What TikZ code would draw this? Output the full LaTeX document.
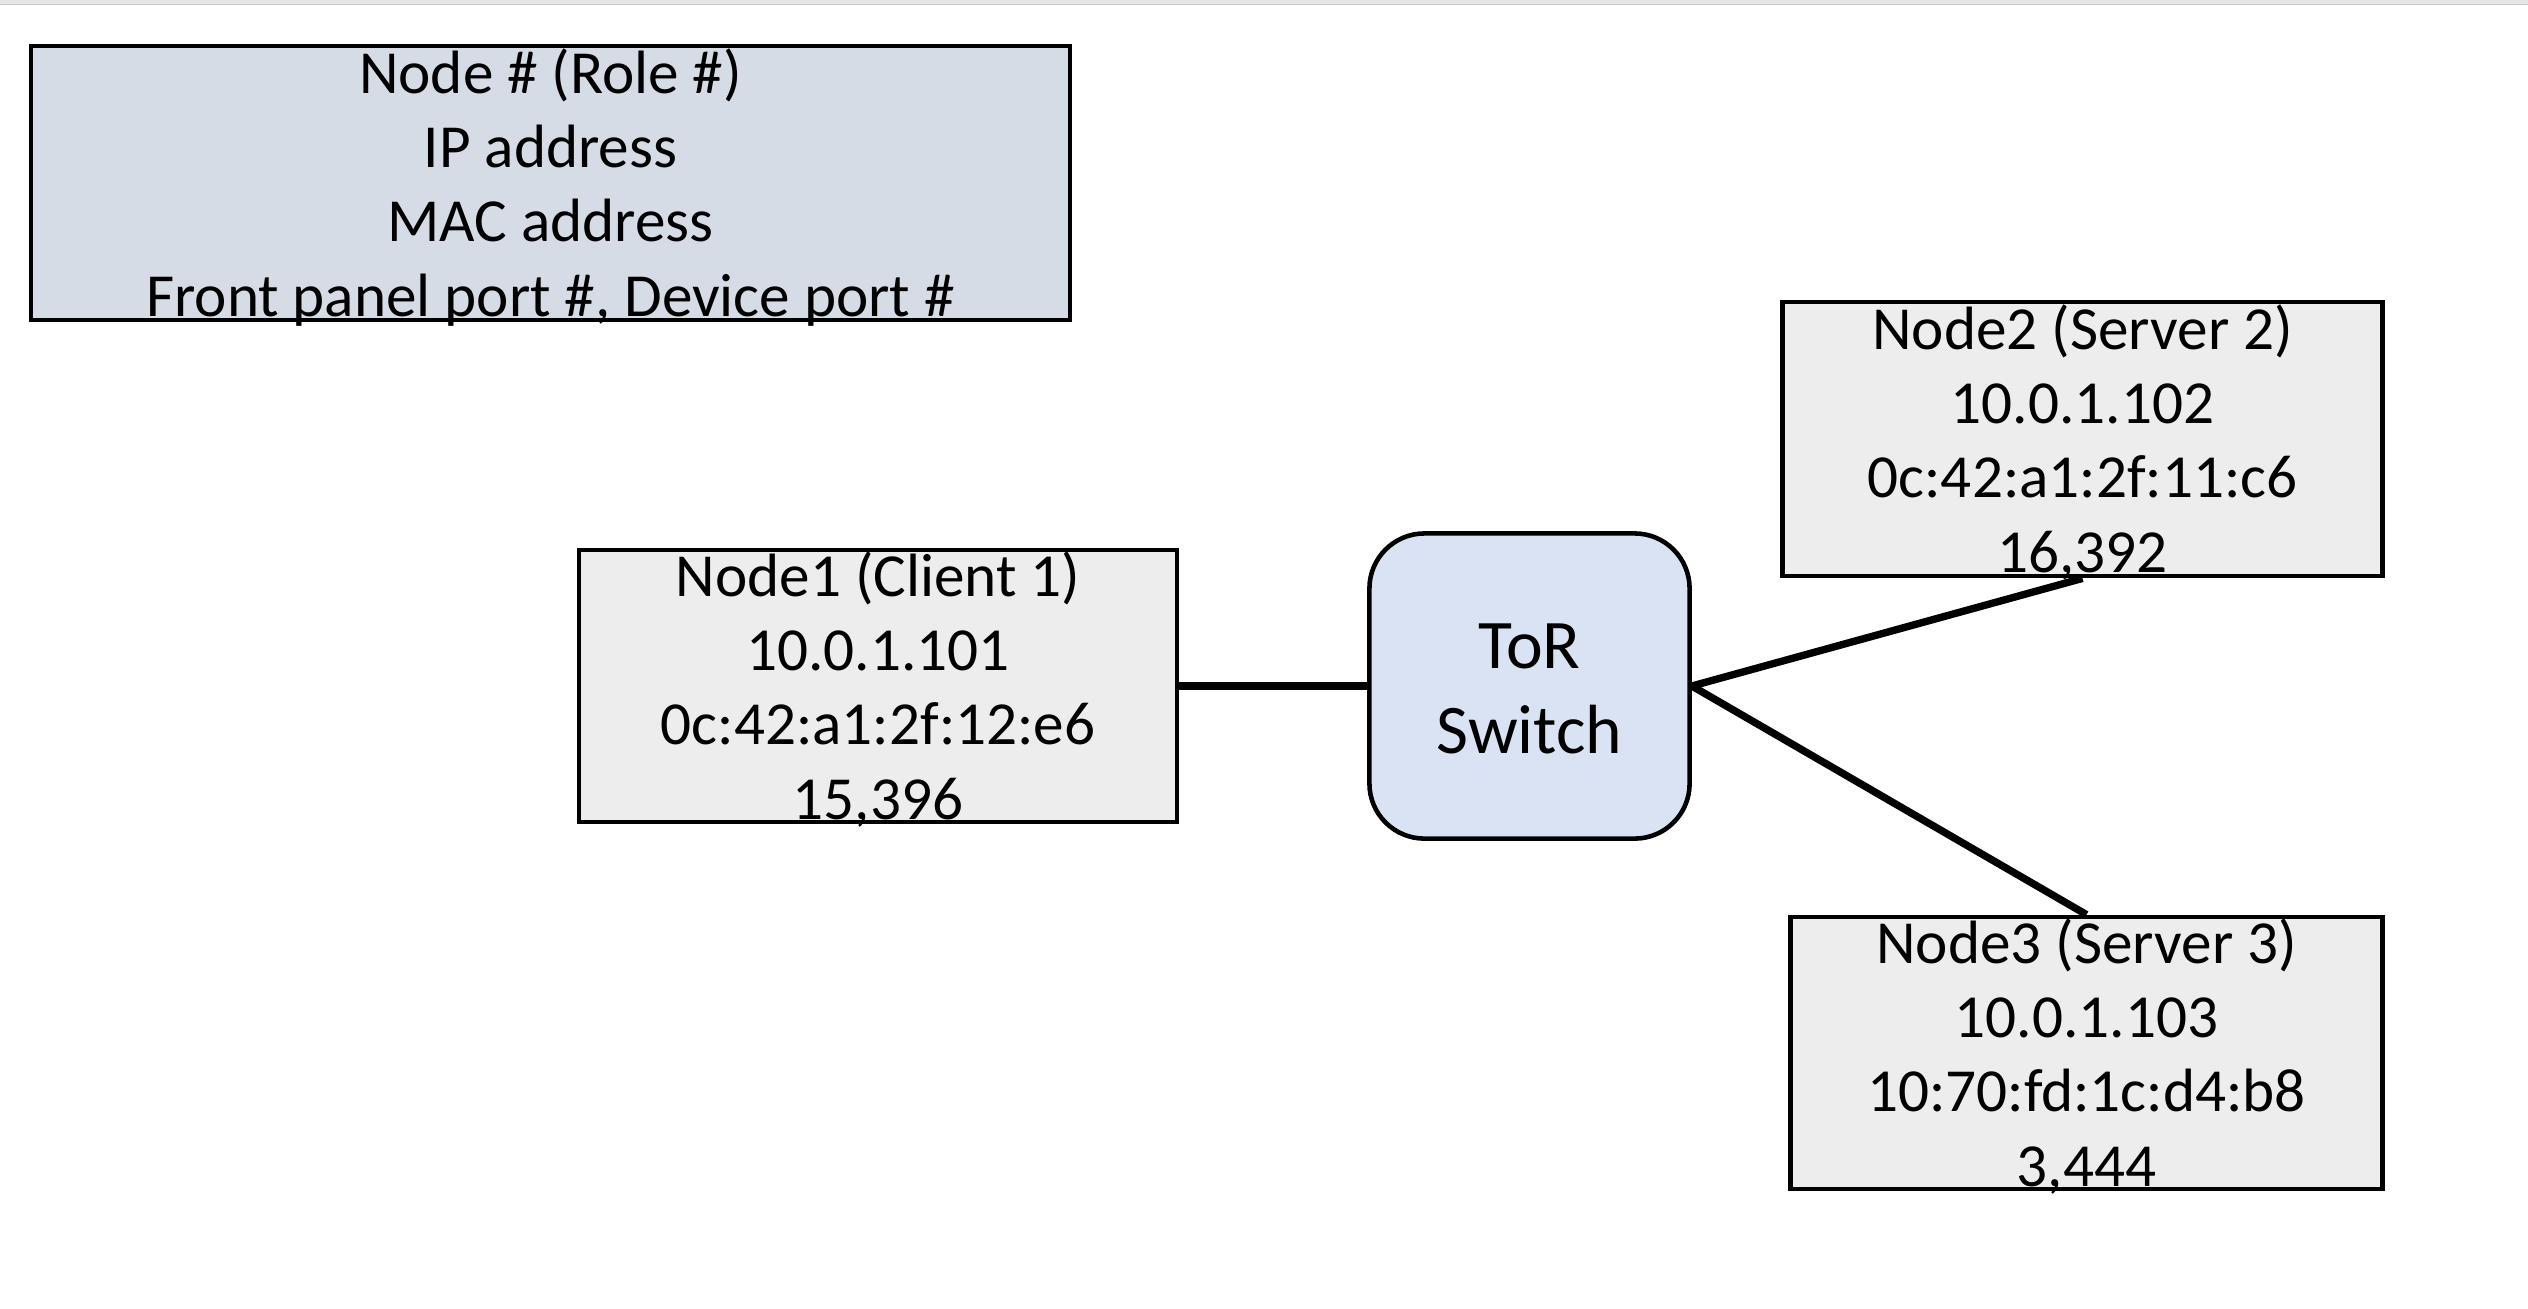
\documentclass[tikz,border=0pt]{standalone}
\usepackage{fontspec}
\setmainfont{Carlito}
\definecolor{legendfill}{HTML}{D6DCE5}
\definecolor{hostfill}{HTML}{EDEDED}
\definecolor{switchfill}{HTML}{DAE3F3}
\definecolor{topband}{HTML}{E6E6E6}
\definecolor{topline}{HTML}{C8C8C8}
\newcommand{\topstrut}{\rule{0pt}{0.95em}}
\newcommand{\botstrut}{\rule[-0.24em]{0pt}{0pt}}
\tikzset{
  infobox/.style={draw=black, line width=1.3pt, rectangle, inner xsep=0pt, inner ysep=-20pt, align=center,
    font=\fontsize{17.4pt}{21.1pt}\selectfont},
  hostbox/.style={infobox, fill=hostfill, minimum width=5.98cm, minimum height=2.72cm},
  switchbox/.style={draw=black, line width=1.3pt, rectangle, rounded corners=0.55cm, fill=switchfill,
    minimum width=3.20cm, minimum height=3.05cm, align=center, inner sep=0pt,
    font=\fontsize{19.8pt}{24.2pt}\selectfont},
  link/.style={draw=black, line width=2.1pt}
}
\begin{document}
\begin{tikzpicture}[x=0.01cm, y=-0.01cm]
\useasboundingbox (0,0) rectangle (2528,1308);
\fill[white] (0,0) rectangle (2528,1308);
\fill[topband] (0,0) rectangle (2528,4);
\draw[topline, line width=0.5pt] (0,4.5) -- (2528,4.5);

\node[infobox, fill=legendfill, minimum width=10.38cm, minimum height=2.74cm] (legend) at (550.5,183)
  {\topstrut Node \# (Role \#)\\IP address\\MAC address\\Front panel port \#, Device port \#\botstrut};

\node[hostbox] (node1) at (878,686)
  {\topstrut Node1 (Client 1)\\10.0.1.101\\0c:42:a1:2f:12:e6\\15,396\botstrut};

\node[hostbox, minimum width=6.00cm, minimum height=2.74cm] (node2) at (2082.5,439)
  {\topstrut Node2 (Server 2)\\10.0.1.102\\0c:42:a1:2f:11:c6\\16,392\botstrut};

\node[hostbox, minimum width=5.92cm, minimum height=2.72cm] (node3) at (2086.5,1053)
  {\topstrut Node3 (Server 3)\\10.0.1.103\\10:70:fd:1c:d4:b8\\3,444\botstrut};

\node[switchbox] (tor) at (1529.5,686) {\rule{0pt}{14.6pt}ToR\\Switch};

\draw[link] (node1.east) -- (tor.west);
\draw[link] (tor.east) -- (node2.south);
\draw[link] (tor.east) -- (node3.north);
\end{tikzpicture}
\end{document}
